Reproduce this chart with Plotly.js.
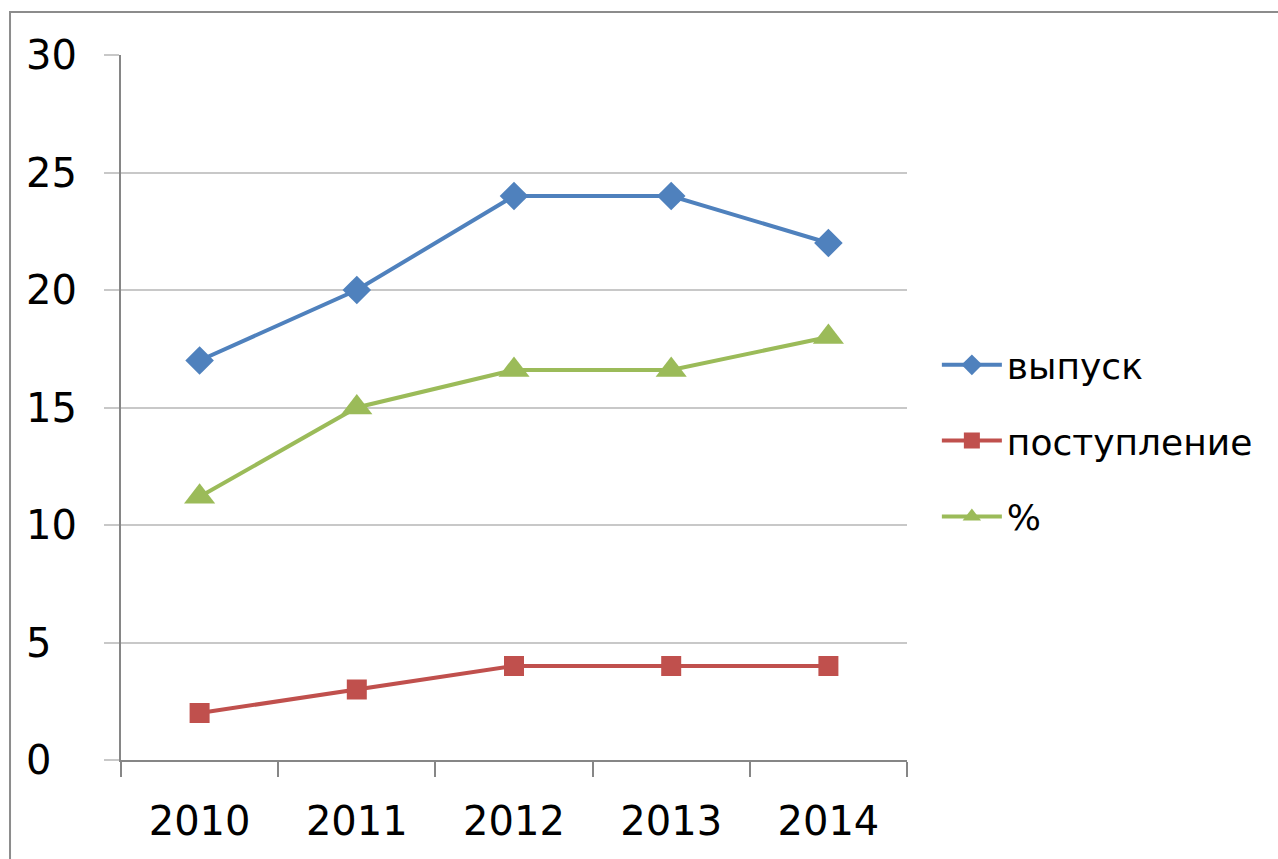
<!DOCTYPE html>
<html><head><meta charset="utf-8">
<script src="https://cdn.plot.ly/plotly-3.0.1.min.js"></script>
<style>html,body{margin:0;padding:0;background:#fff}#chart{width:1278px;height:859px}</style>
</head><body><div id="chart"></div>
<script>
var years = ['2010','2011','2012','2013','2014'];
var vypusk = [17, 20, 24, 24, 22];
var postuplenie = [2, 3, 4, 4, 4];
var percent = [11.2, 15, 16.6, 16.6, 18];
var names = ['выпуск','поступление','%'];
var yTicks = [0,5,10,15,20,25,30];
var yTickText = ['0\u00A0\u00A0','5\u00A0\u00A0','10','15','20','25','30'];

var font = 'DejaVu Sans, Open Sans, sans-serif';
function tr(y, name, color, symbol, size, grp){
  return {x: years, y: y, name: name, type:'scatter', mode:'lines+markers',
    line:{color:color, width:4}, marker:{color:color, symbol:symbol, size:size},
    legendgroup: grp};
}
var data = [
  tr(vypusk, names[0], '#4F81BD', 'diamond', 22, 'a'),
  tr(postuplenie, names[1], '#C0504D', 'square', 20, 'b'),
  tr(percent, names[2], '#9BBB59', 'triangle-up', 27, 'c')
];
var layout = {
  width:1278, height:859,
  margin:{l:121, r:371, t:55, b:99},
  paper_bgcolor:'#fff', plot_bgcolor:'#fff',
  font:{family:font, color:'#000', size:38},
  showlegend:true,
  legend:{x:1.038, y:0.603, xanchor:'left', yanchor:'top', traceorder:'grouped', tracegroupgap:26,
    font:{size:36, family:font}, itemwidth:60, bgcolor:'rgba(0,0,0,0)'},
  xaxis:{type:'category', range:[-0.5,4.5], showgrid:false, showline:true, linecolor:'#868686', linewidth:2,
    ticks:'outside', tickson:'boundaries', ticklen:15, tickcolor:'#868686', tickwidth:2,
    tickfont:{size:40, family:font}, ticklabelstandoff:25, zeroline:false, fixedrange:true},
  yaxis:{range:[0,30], tickvals:yTicks, ticktext:yTickText, showgrid:true, gridcolor:'#C8C8C8', gridwidth:2,
    showline:true, linecolor:'#868686', linewidth:2, ticks:'outside', ticklen:15, tickcolor:'#C8C8C8', tickwidth:2,
    tickfont:{size:40, family:font}, ticklabelstandoff:19, zeroline:false, fixedrange:true},
  shapes:[{type:'rect', xref:'paper', yref:'paper', x0:-0.1412, x1:1.49, y0:-0.16, y1:1.061,
    line:{color:'#8C8C8C', width:2}, fillcolor:'rgba(0,0,0,0)', layer:'below'}]
};
Plotly.newPlot('chart', data, layout, {displayModeBar:false, staticPlot:true});
</script></body></html>
